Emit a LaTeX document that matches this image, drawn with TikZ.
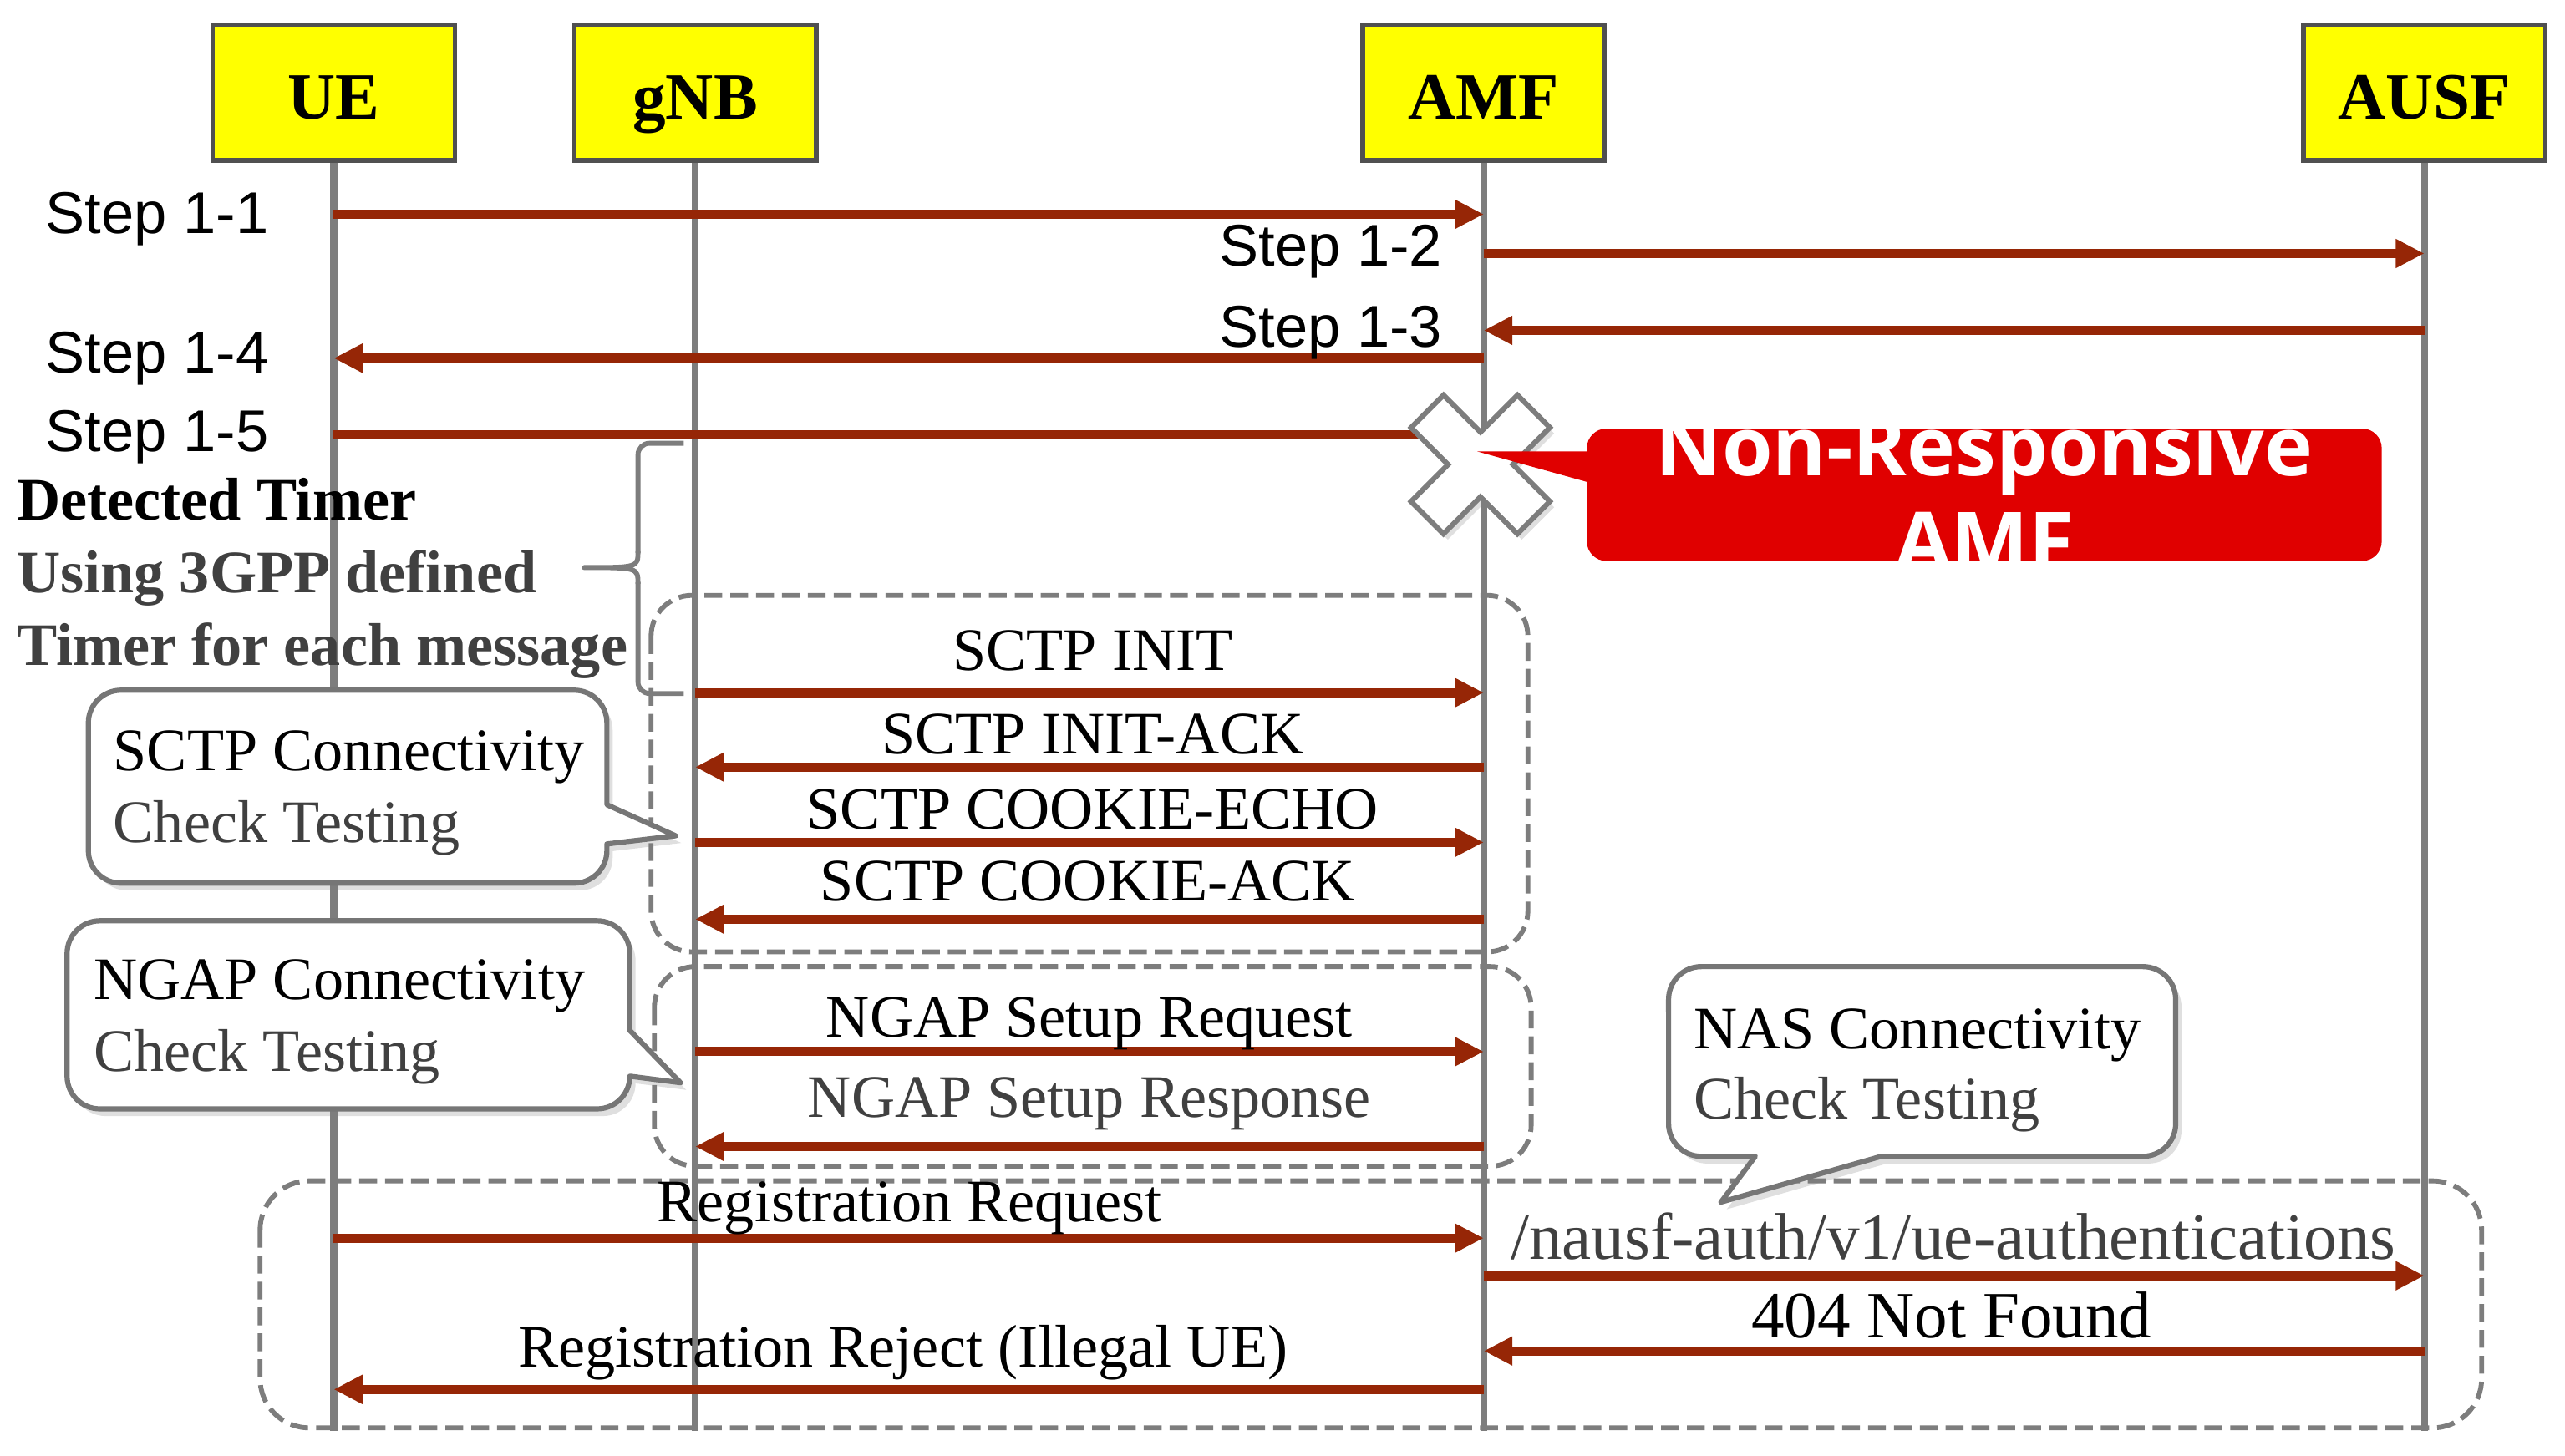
\documentclass[tikz,border=0pt]{standalone}
\usepackage{fontspec}
\setmainfont{Liberation Serif}
\newfontfamily\stepfam{Liberation Sans}
\newfontfamily\osfam{Open Sans}
\usetikzlibrary{arrows.meta,shadows}
\definecolor{msgred}{RGB}{150,38,6}
\definecolor{lifegray}{RGB}{125,125,125}
\definecolor{hdrgray}{RGB}{80,80,80}
\definecolor{grpgray}{RGB}{125,125,125}
\definecolor{callgray}{RGB}{118,118,118}
\definecolor{hdryellow}{RGB}{255,255,0}
\definecolor{alertred}{RGB}{224,0,0}
\definecolor{darktext}{RGB}{64,64,64}
\newcommand\lblsize{\fontsize{21}{25}\selectfont}
\newcommand\bigsize{\fontsize{23}{27}\selectfont}
\begin{document}
\begin{tikzpicture}[x=0.02cm,y=-0.02cm,
  hdr/.style={draw=hdrgray, line width=1.6pt, fill=hdryellow, minimum width=2.96cm, minimum height=1.66cm, inner sep=0pt},
  hdrtxt/.style={font=\fontsize{23}{27}\selectfont\bfseries, inner sep=0pt, anchor=base},
  life/.style={draw=lifegray, line width=2.4pt},
  msg/.style={draw=msgred, line width=3.2pt, -{Triangle[length=10pt,width=9.5pt]}},
  msgplain/.style={draw=msgred, line width=3.2pt},
  lbl/.style={font=\lblsize, inner sep=0pt, anchor=base},
  biglbl/.style={font=\bigsize, inner sep=0pt, anchor=base},
  steplbl/.style={font=\stepfam\fontsize{20.5}{24}\selectfont, inner sep=0pt},
  notelbl/.style={font=\lblsize\bfseries, inner sep=0pt, anchor=base west},
  calltxt/.style={font=\lblsize, inner sep=0pt, anchor=base west},
  grp/.style={draw=grpgray, line width=1.7pt, dash pattern=on 6.2pt off 2.8pt},
  callout/.style={draw=callgray, line width=1.8pt, fill=white, line join=round,
     drop shadow={shadow xshift=2pt, shadow yshift=-2.5pt, opacity=0.25}},
  bracestyle/.style={draw=lifegray, line width=1.7pt, line join=round},
  xmark/.style={draw=lifegray, line width=1.8pt, fill=white, line join=miter,
     drop shadow={shadow xshift=1.5pt, shadow yshift=-2pt, opacity=0.25}},
  redbox/.style={fill=alertred, rounded corners=0.24cm, minimum width=9.72cm, minimum height=1.62cm, inner sep=0pt},
  redtxt/.style={font=\osfam\bfseries\fontsize{28.5}{33}\selectfont, text=white, inner sep=0pt, anchor=base}
]
\useasboundingbox (0,0) rectangle (1568,890);

% group boxes
\draw[grp, rounded corners=0.5cm] (398,364) rectangle (934,582);
\draw[grp, rounded corners=0.5cm] (400,591) rectangle (936,713);
\draw[grp, rounded corners=0.6cm] (159,722) rectangle (1517,873);

% headers
\node[hdr] (UE) at (204,56.5) {};
\node[hdr] (gNB) at (425,56.5) {};
\node[hdr] (AMF) at (907,56.5) {};
\node[hdr] (AUSF) at (1482,56.5) {};
\node[hdrtxt] (UEt) at (204,73) {UE};
\node[hdrtxt] (gNBt) at (425,73) {gNB};
\node[hdrtxt] (AMFt) at (907,73) {AMF};
\node[hdrtxt] (AUSFt) at (1482,73) {AUSF};

% lifelines
\coordinate (UEend) at (204,875);
\coordinate (gNBend) at (425,875);
\coordinate (AMFend) at (907,875);
\coordinate (AUSFend) at (1482,875);
\draw[life] (UE.south) -- (UEend);
\draw[life] (gNB.south) -- (gNBend);
\draw[life] (AMF.south) -- (AMFend);
\draw[life] (AUSF.south) -- (AUSFend);

% step messages
\draw[msg] (UE |- 0,131) -- (AMF |- 0,131);
\draw[msg] (AMF |- 0,155) -- (AUSF |- 0,155);
\draw[msg] (AUSF |- 0,202) -- (AMF |- 0,202);
\draw[msg] (AMF |- 0,219) -- (UE |- 0,219);
\coordinate (xc) at (905,284);
\draw[msgplain] (UE |- 0,266) -- (xc |- 0,266);

\node[steplbl, anchor=base west] (l11) at (27.7,143) {Step 1-1};
\node[steplbl, anchor=base east] (l12) at (882,162.6) {Step 1-2};
\node[steplbl, anchor=base east] (l13) at (882,212) {Step 1-3};
\node[steplbl, anchor=base west] (l14) at (27.7,228) {Step 1-4};
\node[steplbl, anchor=base west] (l15) at (27.7,276) {Step 1-5};

% X mark
\draw[xmark] (905,303.8) -- (927.6,326.4) -- (947.4,306.6) -- (924.8,284) -- (947.4,261.4) -- (927.6,241.6)
  -- (905,264.2) -- (882.4,241.6) -- (862.6,261.4) -- (885.2,284) -- (862.6,306.6) -- (882.4,326.4) -- cycle;

% red alert callout
\node[redbox] (nonresp) at (1213,302.5) {};
\fill[alertred] (903,276) -- (975,276) -- (975,296) -- cycle;
\begin{scope}
  \clip[rounded corners=0.24cm] (nonresp.south west) rectangle (nonresp.north east);
  \node[redtxt] (nrt1) at (1213,291) {Non-Responsive};
  \node[redtxt] (nrt2) at (1213,349) {AMF};
\end{scope}

% detected timer note and brace
\node[notelbl] (n1) at (10,318) {Detected Timer};
\node[notelbl, text=darktext] (n2) at (10,362.6) {Using 3GPP defined};
\node[notelbl, text=darktext] (n3) at (10,407) {Timer for each message};
\draw[bracestyle, rounded corners=4pt] (418,271) -- (390,271) -- (390,338);
\draw[bracestyle] (390,337) .. controls (390,347) .. (357,347) .. controls (390,347) .. (390,357);
\draw[bracestyle, rounded corners=4pt] (390,356) -- (390,424) -- (418,424);

% SCTP messages
\draw[msg] (gNB |- 0,423.5) -- (AMF |- 0,423.5);
\draw[msg] (AMF |- 0,469) -- (gNB |- 0,469);
\draw[msg] (gNB |- 0,515) -- (AMF |- 0,515);
\draw[msg] (AMF |- 0,562) -- (gNB |- 0,562);
\node[lbl] (m1) at (668,410) {SCTP INIT};
\node[lbl] (m2) at (668,461) {SCTP INIT-ACK};
\node[lbl] (m3) at (668,506.7) {SCTP COOKIE-ECHO};
\node[lbl] (m4) at (665,551) {SCTP COOKIE-ACK};

% NGAP messages
\draw[msg] (gNB |- 0,643) -- (AMF |- 0,643);
\draw[msg] (AMF |- 0,701) -- (gNB |- 0,701);
\node[lbl] (m5) at (666,634) {NGAP Setup Request};
\node[lbl, text=darktext] (m6) at (666,683) {NGAP Setup Response};

% NAS messages
\draw[msg] (UE |- 0,757) -- (AMF |- 0,757);
\draw[msg] (AMF |- 0,780) -- (AUSF |- 0,780);
\draw[msg] (AUSF |- 0,826) -- (AMF |- 0,826);
\draw[msg] (AMF |- 0,849.5) -- (UE |- 0,849.5);
\node[lbl] (m7) at (556,747) {Registration Request};
\node[biglbl, text=darktext] (m8) at (1194,770) {/nausf-auth/v1/ue-authentications};
\node[biglbl] (m9) at (1193,818) {404 Not Found};
\node[lbl] (m10) at (552,836) {Registration Reject (Illegal UE)};

% callouts
\path[callout] (74,422) -- (351,422) arc[start angle=90,end angle=0,radius=0.4cm] -- (371,492) -- (413,511) -- (371,516)
  -- (371,520) arc[start angle=0,end angle=-90,radius=0.4cm] -- (74,540) arc[start angle=270,end angle=180,radius=0.4cm]
  -- (54,442) arc[start angle=180,end angle=90,radius=0.4cm] -- cycle;
\node[calltxt] (c1a) at (69,471) {SCTP Connectivity};
\node[calltxt, text=darktext] (c1b) at (69,515) {Check Testing};

\path[callout] (61,563) -- (365,563) arc[start angle=90,end angle=0,radius=0.4cm] -- (385,630) -- (416,662) -- (385,658)
  -- (385,658) arc[start angle=0,end angle=-90,radius=0.4cm] -- (61,678) arc[start angle=270,end angle=180,radius=0.4cm]
  -- (41,583) arc[start angle=180,end angle=90,radius=0.4cm] -- cycle;
\node[calltxt] (c2a) at (57,611) {NGAP Connectivity};
\node[calltxt, text=darktext] (c2b) at (57,655) {Check Testing};

\path[callout] (1040,591) -- (1310,591) arc[start angle=90,end angle=0,radius=0.4cm] -- (1330,687)
  arc[start angle=0,end angle=-90,radius=0.4cm] -- (1150,707) -- (1052,735) -- (1073,707)
  -- (1040,707) arc[start angle=270,end angle=180,radius=0.4cm] -- (1020,611) arc[start angle=180,end angle=90,radius=0.4cm] -- cycle;
\node[calltxt] (c3a) at (1035,641) {NAS Connectivity};
\node[calltxt, text=darktext] (c3b) at (1035,684) {Check Testing};
\end{tikzpicture}
\end{document}
